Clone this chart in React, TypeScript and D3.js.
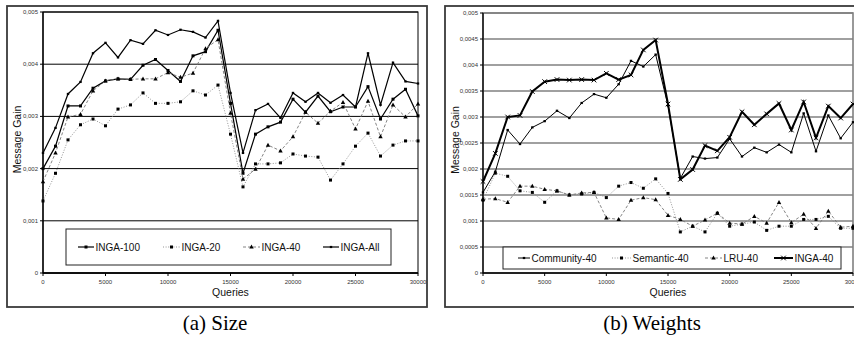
import React from 'react';
import * as d3 from 'd3';

// query counts on the x axis
const queries = [0, 1000, 2000, 3000, 4000, 5000, 6000, 7000, 8000, 9000, 10000, 11000, 12000, 13000, 14000, 15000,
  16000, 17000, 18000, 19000, 20000, 21000, 22000, 23000, 24000, 25000, 26000, 27000, 28000, 29000, 30000];
const xTicks = [0, 5000, 10000, 15000, 20000, 25000, 30000];
const xLabels = ['0', '5000', '10000', '15000', '20000', '25000', '30000'];

// gain values are in thousandths (0.001)
const sizeYTicks = [0, 1, 2, 3, 4, 5];
const sizeYLabels = ['0', '0,001', '0,002', '0,003', '0,004', '0,005'];
const weightYTicks = [0, 0.5, 1, 1.5, 2, 2.5, 3, 3.5, 4, 4.5, 5];
const weightYLabels = ['0', '0,0005', '0,001', '0,0015', '0,002', '0,0025', '0,003', '0,0035', '0,004', '0,0045', '0,005'];

// (a) Size
const inga100 = [2.00, 2.43, 3.20, 3.20, 3.54, 3.68, 3.72, 3.71, 3.98, 4.09, 3.88, 3.67, 4.16, 4.24, 4.65, 3.25,
  1.91, 2.66, 2.80, 2.89, 3.33, 3.08, 3.39, 3.09, 3.18, 3.18, 3.57, 2.95, 3.33, 3.52, 3.01];
const inga20 = [1.38, 1.91, 2.55, 2.84, 2.95, 2.82, 3.14, 3.22, 3.45, 3.25, 3.25, 3.28, 3.49, 3.41, 3.60, 2.66,
  1.65, 2.09, 2.09, 2.11, 2.28, 2.24, 2.22, 1.78, 2.09, 2.43, 2.68, 2.24, 2.45, 2.53, 2.53];
const inga40 = [1.75, 2.30, 2.99, 3.04, 3.49, 3.68, 3.72, 3.71, 3.72, 3.72, 3.84, 3.75, 3.83, 4.30, 4.47, 3.06,
  1.80, 1.99, 2.45, 2.34, 2.61, 3.08, 2.87, 3.10, 3.27, 2.76, 3.29, 2.61, 3.22, 2.99, 3.24];
const ingaAll = [2.30, 2.78, 3.43, 3.66, 4.21, 4.41, 4.13, 4.46, 4.39, 4.65, 4.56, 4.66, 4.62, 4.51, 4.83, 3.45,
  2.30, 3.12, 3.24, 2.97, 3.45, 3.28, 3.45, 3.26, 3.41, 3.18, 4.21, 3.22, 4.03, 3.67, 3.63];

// (b) Weights
const community40 = [1.55, 1.95, 2.75, 2.48, 2.80, 2.92, 3.12, 2.98, 3.27, 3.44, 3.37, 3.63, 4.08, 3.97, 4.20, 3.22,
  1.82, 2.24, 2.20, 2.22, 2.58, 2.24, 2.41, 2.32, 2.47, 2.32, 3.07, 2.34, 3.03, 2.59, 2.90];
const semantic40 = [1.40, 1.92, 1.86, 1.58, 1.55, 1.36, 1.58, 1.50, 1.52, 1.55, 1.45, 1.67, 1.74, 1.63, 1.81, 1.53,
  0.79, 0.90, 0.79, 1.15, 0.90, 0.94, 0.98, 0.82, 0.90, 0.90, 1.03, 1.03, 1.09, 0.86, 0.86];
const lru40 = [1.42, 1.43, 1.36, 1.67, 1.67, 1.61, 1.58, 1.50, 1.54, 1.55, 1.06, 1.03, 1.40, 1.45, 1.41, 1.11,
  1.03, 0.90, 1.02, 1.15, 0.96, 0.94, 1.09, 0.96, 1.36, 0.97, 1.13, 0.86, 1.19, 0.88, 0.90];
const ingaW40 = [1.76, 2.30, 3.00, 3.03, 3.49, 3.68, 3.72, 3.71, 3.72, 3.71, 3.84, 3.72, 3.81, 4.29, 4.48, 3.25,
  1.80, 1.99, 2.45, 2.35, 2.61, 3.10, 2.85, 3.06, 3.26, 2.75, 3.29, 2.60, 3.21, 2.98, 3.25];

const SANS = "'Liberation Sans', Arial, sans-serif";
const SERIF = "'Liberation Serif', 'Times New Roman', serif";

const lineStyles: any = {
  solid: { stroke: '#000', strokeWidth: 1.2 },
  thin: { stroke: '#000', strokeWidth: 1 },
  thick: { stroke: '#000', strokeWidth: 2 },
  dashed: { stroke: '#777', strokeWidth: 0.9, strokeDasharray: '3,2' },
  dotted: { stroke: '#888', strokeWidth: 0.9, strokeDasharray: '1,1.6' },
};

function Marker({ type, x, y }: any) {
  if (type === 'square') return <rect x={x - 1.5} y={y - 1.5} width={3} height={3} fill="#000" />;
  if (type === 'triangle') return <path d={`M${x},${y - 2.4}L${x + 2.2},${y + 1.6}L${x - 2.2},${y + 1.6}Z`} fill="#000" />;
  if (type === 'cross')
    return <path d={`M${x - 2.3},${y - 2.3}L${x + 2.3},${y + 2.3}M${x - 2.3},${y + 2.3}L${x + 2.3},${y - 2.3}`} stroke="#000" strokeWidth={1} />;
  return <rect x={x - 1.2} y={y - 1.1} width={2.4} height={2.2} fill="#000" />;
}

function Panel(props: any) {
  const { frame, plot, yTicks, yLabels, series, legend, grid, caption, clipRight } = props;
  const x = d3.scaleLinear().domain([0, 30000]).range([plot.left, plot.right]);
  const y = d3.scaleLinear().domain([0, 5]).range([plot.bottom, plot.top]);
  const line = d3.line<number>().x((_, i) => x(queries[i])).y((d) => y(d));
  const midX = (plot.left + plot.right) / 2;
  const midY = (plot.top + plot.bottom) / 2;

  return (
    <g>
      <rect x={frame.left} y={frame.top} width={frame.right - frame.left} height={frame.bottom - frame.top}
        fill="#fff" stroke="#3a3a3a" strokeWidth={1.8} />
      <rect x={plot.left} y={plot.top} width={plot.right - plot.left} height={plot.bottom - plot.top}
        fill="none" stroke={grid.color} strokeWidth={grid.width} />
      {yTicks.map((t: number, i: number) => (
        <g key={'y' + i}>
          <line x1={plot.left} x2={plot.right} y1={y(t)} y2={y(t)} stroke={grid.color} strokeWidth={grid.width} />
          <line x1={plot.left - 3} x2={plot.left} y1={y(t)} y2={y(t)} stroke="#000" strokeWidth={1} />
          <text x={plot.left - 5} y={y(t) + 2} textAnchor="end" fontSize={6} fontFamily={SANS} fill="#333">{yLabels[i]}</text>
        </g>
      ))}
      {xTicks.map((t, i) => (
        <g key={'x' + i}>
          <line x1={x(t)} x2={x(t)} y1={plot.bottom} y2={plot.bottom + 3} stroke="#000" strokeWidth={1} />
          <text x={x(t)} y={plot.bottom + 11} textAnchor="middle" fontSize={6} fontFamily={SANS} fill="#333">{xLabels[i]}</text>
        </g>
      ))}
      <line x1={plot.left} x2={plot.left} y1={plot.top} y2={plot.bottom} stroke="#000" strokeWidth={1.3} />
      <line x1={plot.left} x2={plot.right} y1={plot.bottom} y2={plot.bottom} stroke="#000" strokeWidth={1.3} />
      {series.map((s: any) => (
        <g key={s.name}>
          <path d={line(s.values) || ''} fill="none" {...lineStyles[s.line]} />
          {s.values.map((v: number, i: number) => <Marker key={i} type={s.marker} x={x(queries[i])} y={y(v)} />)}
        </g>
      ))}
      <rect x={legend.left} y={legend.top} width={legend.right - legend.left} height={legend.bottom - legend.top}
        fill="#fff" stroke="#222" strokeWidth={1} />
      {series.map((s: any, i: number) => {
        const cy = (legend.top + legend.bottom) / 2;
        const [a, b] = legend.samples[i];
        return (
          <g key={'l' + s.name}>
            <line x1={a} x2={b} y1={cy} y2={cy} {...lineStyles[s.line]} />
            <Marker type={s.marker} x={(a + b) / 2} y={cy} />
            <text x={b + 1.5} y={cy + 3.6} fontSize={10} fontFamily={SANS} fill="#111">{s.name}</text>
          </g>
        );
      })}
      <text x={midX} y={plot.bottom + 23} textAnchor="middle" fontSize={10.5} fontFamily={SANS} fill="#111">Queries</text>
      <text transform={`translate(${frame.left + 13.5},${midY - 3}) rotate(-90)`} textAnchor="middle" fontSize={10.5}
        fontFamily={SANS} fill="#111">Message Gain</text>
      <text x={caption.x} y={330} textAnchor="middle" fontSize={21} fontFamily={SERIF} fill="#000">{caption.text}</text>
    </g>
  );
}

export default function App() {
  const sizeSeries = [
    { name: 'INGA-100', values: inga100, line: 'solid', marker: 'square' },
    { name: 'INGA-20', values: inga20, line: 'dotted', marker: 'square' },
    { name: 'INGA-40', values: inga40, line: 'dashed', marker: 'triangle' },
    { name: 'INGA-All', values: ingaAll, line: 'solid', marker: 'dash' },
  ];
  const weightSeries = [
    { name: 'Community-40', values: community40, line: 'thin', marker: 'dash' },
    { name: 'Semantic-40', values: semantic40, line: 'dotted', marker: 'square' },
    { name: 'LRU-40', values: lru40, line: 'dashed', marker: 'triangle' },
    { name: 'INGA-40', values: ingaW40, line: 'thick', marker: 'cross' },
  ];
  return (
    <svg width={854} height={339} style={{ position: 'absolute', left: 0, top: 0, background: '#fff' }}>
      <rect width={854} height={339} fill="#fff" />
      <Panel
        frame={{ left: 7, top: 6, right: 427, bottom: 307 }}
        plot={{ left: 43, top: 12, right: 418, bottom: 273 }}
        yTicks={sizeYTicks} yLabels={sizeYLabels}
        grid={{ color: '#000', width: 1 }}
        series={sizeSeries}
        legend={{ left: 66, top: 229, right: 391, bottom: 265, samples: [[78, 94], [163, 180], [243, 260], [323, 339]] }}
        caption={{ x: 215, text: '(a) Size' }}
      />
      <Panel
        frame={{ left: 445, top: 6, right: 866, bottom: 307 }}
        plot={{ left: 483, top: 13, right: 853, bottom: 273 }}
        yTicks={weightYTicks} yLabels={weightYLabels}
        grid={{ color: '#808080', width: 1.6 }}
        series={weightSeries}
        legend={{ left: 503, top: 247, right: 841, bottom: 269, samples: [[518, 530], [612, 631], [705, 722], [774, 793]] }}
        caption={{ x: 652, text: '(b) Weights' }}
      />
    </svg>
  );
}
